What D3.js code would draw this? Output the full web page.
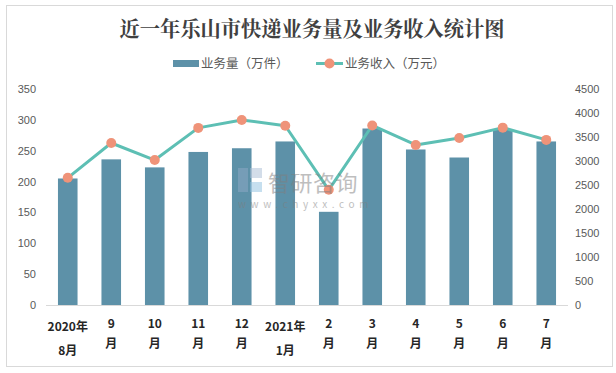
<!DOCTYPE html>
<html>
<head>
<meta charset="utf-8">
<script src="https://cdn.jsdelivr.net/npm/d3@7"></script>
<style>
  body { margin: 0; background: #fff; }
  svg text { font-family: "Noto Sans CJK SC", "Microsoft YaHei", sans-serif; }
</style>
</head>
<body>
<svg id="chart" width="616" height="373"></svg>
<script>
// data
var months = ['2020-08', '2020-09', '2020-10', '2020-11', '2020-12', '2021-01',
              '2021-02', '2021-03', '2021-04', '2021-05', '2021-06', '2021-07'];
var monthLabels = [['2020年', '8月'], ['9', '月'], ['10', '月'], ['11', '月'], ['12', '月'], ['2021年', '1月'],
                   ['2', '月'], ['3', '月'], ['4', '月'], ['5', '月'], ['6', '月'], ['7', '月']];
var volume = [205, 236, 223, 248, 254, 265, 151, 286, 252, 239, 285, 265];          // 万件
var revenue = [2650, 3375, 3020, 3690, 3855, 3735, 2400, 3740, 3335, 3480, 3695, 3440]; // 万元
var leftTicks = [0, 50, 100, 150, 200, 250, 300, 350];
var rightTicks = [0, 500, 1000, 1500, 2000, 2500, 3000, 3500, 4000, 4500];

var barColor = '#5d91a8'
  , lineColor = '#5dbfb4'
  , dotColor = '#ef9379'
  , margin = {top: 89, bottom: 305, left: 46, right: 568}
  ;

var svg = d3.select('#chart');

// outer frame
svg.append('rect')
    .attr('x', 6.5).attr('y', 5.5)
    .attr('width', 606).attr('height', 361)
    .attr('fill', '#fff')
    .attr('stroke', '#d9d9d9');

svg.append('text')
    .attr('x', 312).attr('y', 36)
    .attr('text-anchor', 'middle')
    .attr('font-size', 21)
    .attr('font-weight', 'bold')
    .attr('textLength', 385)
    .attr('lengthAdjust', 'spacingAndGlyphs')
    .attr('fill', '#404040')
    .style('font-family', '"Noto Serif CJK SC", "SimSun", "Noto Sans CJK SC", serif')
    .text('近一年乐山市快递业务量及业务收入统计图');

var x = d3.scaleBand().domain(months).range([margin.left, margin.right]).paddingInner(0.55).paddingOuter(0.275);
var yL = d3.scaleLinear().domain([0, 350]).range([margin.bottom, margin.top]);
var yR = d3.scaleLinear().domain([0, 4500]).range([margin.bottom, margin.top]);

// bars
svg.append('g').selectAll('rect')
    .data(volume)
  .enter().append('rect')
    .attr('x', function (d, i) { return x(months[i]); })
    .attr('y', function (d) { return yL(d); })
    .attr('width', x.bandwidth())
    .attr('height', function (d) { return yL(0) - yL(d); })
    .attr('fill', barColor);

// baseline
svg.append('line')
    .attr('x1', margin.left).attr('x2', margin.right)
    .attr('y1', margin.bottom + 0.5).attr('y2', margin.bottom + 0.5)
    .attr('stroke', '#d9d9d9');

// axes
var leftAxis = d3.axisLeft(yL).tickValues(leftTicks).tickFormat(d3.format('d')).tickSize(0).tickPadding(0);
svg.append('g').attr('transform', 'translate(36,0)').call(leftAxis)
    .call(function (g) { g.select('.domain').remove(); })
    .selectAll('text').attr('font-size', 11).attr('fill', '#595959')
    .style('font-family', '"Liberation Sans", Arial, sans-serif');

var rightAxis = d3.axisRight(yR).tickValues(rightTicks).tickFormat(d3.format('d')).tickSize(0).tickPadding(0);
svg.append('g').attr('transform', 'translate(575,0)').call(rightAxis)
    .call(function (g) { g.select('.domain').remove(); })
    .selectAll('text').attr('font-size', 11).attr('fill', '#595959')
    .style('font-family', '"Liberation Sans", Arial, sans-serif');

// category labels, wrapped like the original
var xl = svg.append('g').selectAll('text')
    .data(monthLabels)
  .enter().append('text')
    .attr('text-anchor', 'middle')
    .attr('font-size', 12)
    .attr('font-weight', 'bold')
    .attr('fill', '#262626');
xl.each(function (d, i) {
  var t = d3.select(this)
    , cx = x(months[i]) + x.bandwidth() / 2
    , yr = d[0].indexOf('年') >= 0
    ;
  t.append('tspan').attr('x', cx).attr('y', yr ? 331 : 328).text(d[0]);
  t.append('tspan').attr('x', cx).attr('y', yr ? 355 : 348).text(d[1]);
});

// revenue line
var line = d3.line()
    .x(function (d, i) { return x(months[i]) + x.bandwidth() / 2; })
    .y(function (d) { return yR(d); });

svg.append('path')
    .datum(revenue)
    .attr('d', line)
    .attr('fill', 'none')
    .attr('stroke', lineColor)
    .attr('stroke-width', 3)
    .attr('stroke-linejoin', 'round');

svg.append('g').selectAll('circle')
    .data(revenue)
  .enter().append('circle')
    .attr('cx', function (d, i) { return x(months[i]) + x.bandwidth() / 2; })
    .attr('cy', function (d) { return yR(d); })
    .attr('r', 5)
    .attr('fill', dotColor);

// watermark, sits over the marks
var wm = svg.append('g').attr('opacity', 0.5);
wm.append('rect').attr('x', 238).attr('y', 168).attr('width', 10).attr('height', 24).attr('fill', '#8fa9c6');
wm.append('rect').attr('x', 250).attr('y', 168).attr('width', 12).attr('height', 10).attr('fill', '#a9bdd4');
wm.append('rect').attr('x', 250).attr('y', 182).attr('width', 12).attr('height', 10).attr('fill', '#8ec0e0');
wm.append('text').attr('x', 268).attr('y', 191).attr('font-size', 22).attr('fill', '#7f7f7f')
    .attr('letter-spacing', 0.5).text('智研咨询');
wm.append('text').attr('x', 238).attr('y', 208).attr('font-size', 10).attr('fill', '#7f7f7f')
    .attr('letter-spacing', 4.6).text('www.chyxx.com');

// legend
var lg = svg.append('g');
lg.append('rect').attr('x', 173).attr('y', 60).attr('width', 26).attr('height', 7).attr('fill', barColor);
lg.append('text').attr('x', 201).attr('y', 68).attr('font-size', 12.5).attr('fill', '#595959').text('业务量（万件）');
lg.append('line').attr('x1', 316).attr('x2', 343).attr('y1', 63.5).attr('y2', 63.5)
    .attr('stroke', lineColor).attr('stroke-width', 3);
lg.append('circle').attr('cx', 329.5).attr('cy', 63.5).attr('r', 5).attr('fill', dotColor);
lg.append('text').attr('x', 345).attr('y', 68).attr('font-size', 12.5).attr('fill', '#595959').text('业务收入（万元）');
</script>
</body>
</html>
